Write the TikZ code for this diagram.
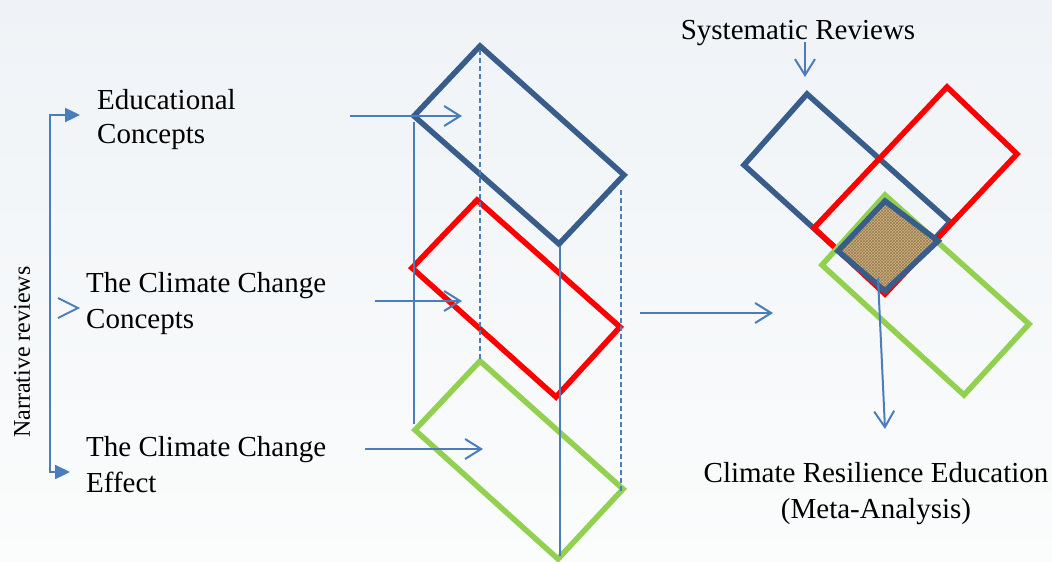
\documentclass[tikz,border=0pt]{standalone}
\usepackage{fontspec}
\setmainfont{Liberation Serif}
\usetikzlibrary{arrows.meta,patterns,calc}
\definecolor{dblue}{RGB}{56,93,138}
\definecolor{lblue}{RGB}{74,126,187}
\definecolor{grn}{RGB}{146,208,80}
\definecolor{tanA}{RGB}{212,182,126}
\definecolor{tanB}{RGB}{120,88,40}
\definecolor{bgtop}{RGB}{239,243,247}
\definecolor{bgbot}{RGB}{251,252,252}
\begin{document}
\begin{tikzpicture}[x=1pt,y=-1pt,
  box/.style={line width=5.5pt, line join=miter},
  thinline/.style={lblue, line width=2pt},
  dsh/.style={lblue, line width=1.8pt, dash pattern=on 5pt off 3pt},
  barb/.style={thinline, -{Straight Barb[length=16pt,width=20pt]}},
  lbl/.style={font=\fontsize{29}{36}\selectfont, inner sep=0pt, align=left},
]
\shade[top color=bgtop, bottom color=bgbot] (0,0) rectangle (1052,562);
\useasboundingbox (0,0) rectangle (1052,562);

% ---------- left texts ----------
\node[lbl, font=\fontsize{29}{34}\selectfont, anchor=north west] (ed) at (97,89) {Educational\\Concepts};
\node[lbl, anchor=north west] (cc) at (86,272) {The Climate Change\\Concepts};
\node[lbl, anchor=north west] (ef) at (86,436) {The Climate Change\\Effect};
\node[font=\fontsize{24}{28}\selectfont, inner sep=0pt, rotate=90] (nr) at (22,352) {Narrative reviews};

% bracket
\coordinate (brT) at (80,115);
\coordinate (brB) at (70,472);
\draw[thinline, line width=2.4pt, {Triangle[length=15pt,width=14pt]}-{Triangle[length=15pt,width=14pt]}]
  (brT) -- (50,115) -- (50,472) -- (brB);
\coordinate (chv) at (78,308);
\draw[thinline] ($(chv)+(-20,-10)$) -- (chv) -- ($(chv)+(-20,10)$);

% ---------- stacked diamonds ----------
\coordinate (bT) at (480,46);  \coordinate (bL) at (414,116);
\coordinate (bB) at (559,244); \coordinate (bR) at (624,175);
\coordinate (rT) at (477,200); \coordinate (rL) at (412,268);
\coordinate (rB) at (556,397); \coordinate (rR) at (620,327);
\coordinate (gT) at (480,361); \coordinate (gL) at (415,430);
\coordinate (gB) at (558,559); \coordinate (gR) at (623,489);

\draw[box, dblue] (bT) -- (bL) -- (bB) -- (bR) -- cycle;
\draw[box, red] (rT) -- (rL) -- (rB) -- (rR) -- cycle;
\draw[box, grn] (gT) -- (gL) -- (gB) -- (gR) -- cycle;

% guide lines
\coordinate (d1a) at (480,50);  \coordinate (d1b) at (480,359);
\coordinate (d2a) at (621,190); \coordinate (d2b) at (621,492);
\draw[dsh] (d1a) -- (d1b);
\draw[dsh] (d2a) -- (d2b);
\coordinate (s1a) at (414,122); \coordinate (s1b) at (414,424);
\coordinate (s2a) at (560,246); \coordinate (s2b) at (560,556);
\draw[thinline] (s1a) -- (s1b);
\draw[thinline] (s2a) -- (s2b);

% horizontal arrows
\coordinate (a1s) at (350,116); \coordinate (a1e) at (462,116);
\coordinate (a2s) at (375,301); \coordinate (a2e) at (462,301);
\coordinate (a3s) at (365,449); \coordinate (a3e) at (483,449);
\draw[barb] (a1s) -- (a1e);
\draw[barb] (a2s) -- (a2e);
\draw[barb] (a3s) -- (a3e);
\coordinate (a4s) at (640,313); \coordinate (a4e) at (773,313);
\draw[barb] (a4s) -- (a4e);

% ---------- right group ----------
\node[lbl, anchor=base] (sr) at (798,39) {Systematic Reviews};
\coordinate (srA) at (805,42); \coordinate (srB) at (805,77);
\draw[barb] (srA) -- (srB);

\coordinate (BT) at (807,94);  \coordinate (BL) at (744,165);
\coordinate (BB) at (885,293); \coordinate (BR) at (950,222);
\coordinate (RT) at (947,87);  \coordinate (RR) at (1017,154);
\coordinate (RB) at (885,294); \coordinate (RL) at (814,228);
\coordinate (GT) at (885,195); \coordinate (GL) at (822,265);
\coordinate (GB) at (964,395); \coordinate (GR) at (1029,324);
\coordinate (IT) at (885,201); \coordinate (IL) at (838,251);
\coordinate (IB) at (885,291); \coordinate (IR) at (938,241);

\draw[box, dblue] (BT) -- (BL) -- (BB) -- (BR) -- cycle;
\draw[box, red] (RT) -- (RR) -- (RB) -- (RL) -- cycle;
\draw[box, grn] (GT) -- (GL) -- (GB) -- (GR) -- cycle;
\fill[tanA] (IT) -- (IL) -- (IB) -- (IR) -- cycle;
\fill[pattern=crosshatch, pattern color=tanB!80] (IT) -- (IL) -- (IB) -- (IR) -- cycle;
\draw[box, dblue] (IT) -- (IL) -- (IB) -- (IR) -- cycle;

\node[lbl, align=center, anchor=north] (cre) at (876,462) {Climate Resilience Education\\(Meta-Analysis)};
\coordinate (mA) at (878,278); \coordinate (mB) at (885,429);
\draw[barb] (mA) -- (mB);
\end{tikzpicture}
\end{document}
